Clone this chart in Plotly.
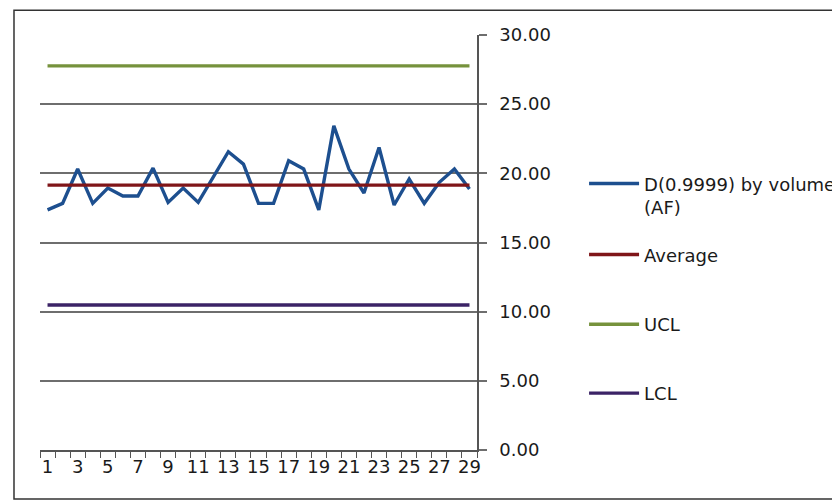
import plotly.graph_objects as go

# ---- data ----
samples = list(range(1, 30))
d_values = [17.36, 17.83, 20.31, 17.83, 18.94, 18.36, 18.36, 20.38, 17.90, 18.94,
            17.90, 19.71, 21.56, 20.67, 17.83, 17.83, 20.91, 20.31, 17.36, 23.43,
            20.31, 18.58, 21.87, 17.71, 19.59, 17.83, 19.35, 20.31, 18.87]
average_value = 19.15
ucl_value = 27.77
lcl_value = 10.48
x_tick_vals = list(range(1, 30, 2))
x_tick_text = [str(v) for v in x_tick_vals]
y_tick_vals = [0, 5, 10, 15, 20, 25, 30]

series_names = ["D(0.9999) by volume<br>(AF)", "Average", "UCL", "LCL"]
series_colors = ["#1d4f8f", "#7f1518", "#76923c", "#3b2366"]
legend_ids = ["legend", "legend2", "legend3", "legend4"]
legend_tops = [0.686, 0.515, 0.347, 0.181]

n = len(samples)
series_values = [
    d_values,
    [average_value] * n,
    [ucl_value] * n,
    [lcl_value] * n,
]

FONT = "DejaVu Sans"
TXT = "#1a1a1a"

fig = go.Figure()
for name, color, vals, lg in zip(series_names, series_colors, series_values, legend_ids):
    fig.add_trace(go.Scatter(
        x=samples, y=vals, mode="lines", name=name,
        line=dict(color=color, width=3.4),
        legend=lg,
    ))

legend_layouts = {}
for lg, top in zip(legend_ids, legend_tops):
    legend_layouts[lg] = dict(
        x=1.245, xanchor="left", y=top, yanchor="top",
        font=dict(family=FONT, size=18, color=TXT),
        itemwidth=50, valign="top",
        bgcolor="rgba(0,0,0,0)",
    )

fig.update_layout(
    width=832, height=501,
    margin=dict(l=40, r=355, t=35, b=51, autoexpand=False),
    paper_bgcolor="white", plot_bgcolor="white",
    font=dict(family=FONT, size=18, color=TXT),
    showlegend=True,
    xaxis=dict(
        range=[0.5, 29.5],
        tickmode="array", tickvals=x_tick_vals, ticktext=x_tick_text,
        ticks="", showgrid=False, zeroline=False,
        showline=True, linecolor="#555555", linewidth=1.5,
        tickfont=dict(family=FONT, size=18, color=TXT),
        minor=dict(tickmode="array", tickvals=[v + 0.5 for v in range(0, 30)],
                   ticks="outside", ticklen=6, tickcolor="#555555", tickwidth=1.3,
                   showgrid=False),
    ),
    yaxis=dict(
        range=[0, 30], side="right",
        tickmode="array", tickvals=y_tick_vals, tickformat=".2f",
        showgrid=True, gridcolor="#6e6e6e", gridwidth=1.5,
        zeroline=False,
        showline=True, linecolor="#555555", linewidth=1.5,
        ticks="outside", ticklen=8, tickcolor="#6e6e6e", tickwidth=1.5,
        ticklabelstandoff=9,
        tickfont=dict(family=FONT, size=18, color=TXT),
    ),
    shapes=[dict(
        type="rect", xref="paper", yref="paper",
        x0=-0.0595, x1=1.85, y0=-0.118, y1=1.0595,
        line=dict(color="#333333", width=1.5), fillcolor="rgba(0,0,0,0)",
        layer="below",
    )],
    **legend_layouts,
)

fig.write_html(
    "out.html",
    config={"displayModeBar": False},
    post_script="document.body.style.margin='0';document.body.style.overflow='hidden';",
)
